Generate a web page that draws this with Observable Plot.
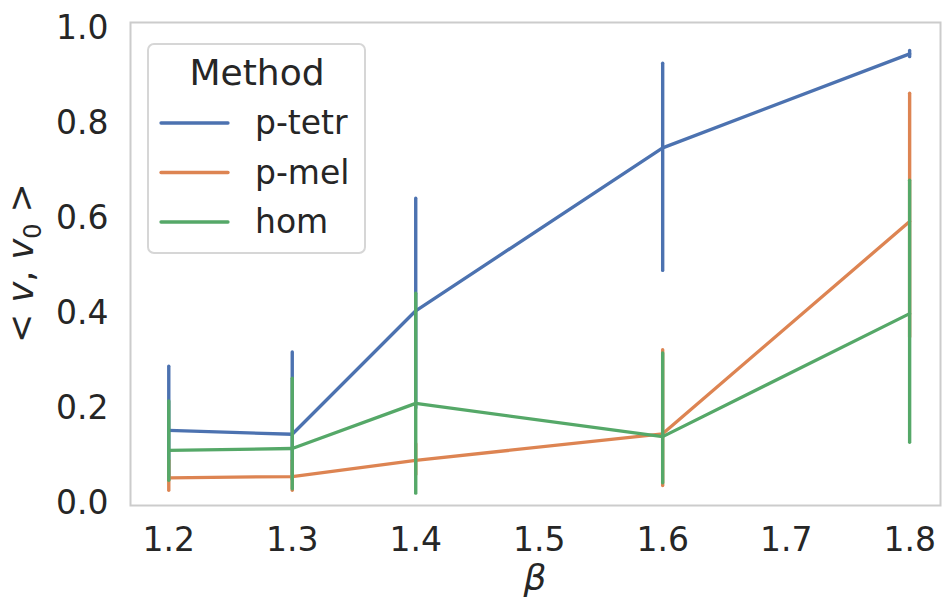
<!DOCTYPE html>
<html>
<head>
<meta charset="utf-8">
<script src="https://cdn.jsdelivr.net/npm/d3@7"></script>
<script src="https://cdn.jsdelivr.net/npm/@observablehq/plot@0.6"></script>
<style>
  html, body { margin: 0; padding: 0; background: #fff; }
</style>
</head>
<body>
<div id="chart"></div>
<script>
// ---- data ----
const betas = [1.2, 1.3, 1.4, 1.6, 1.8];
const methods = ["p-tetr", "p-mel", "hom"];
const colors = ["#4c72b0", "#dd8452", "#55a868"];
const xTicks = [1.2, 1.3, 1.4, 1.5, 1.6, 1.7, 1.8];
const yTicks = [0.0, 0.2, 0.4, 0.6, 0.8, 1.0];

const ptetrMean = [0.154, 0.146, 0.406, 0.749, 0.947];
const ptetrLow  = [0.050, 0.050, 0.200, 0.490, 0.940];
const ptetrHigh = [0.288, 0.318, 0.642, 0.926, 0.953];

const pmelMean = [0.054, 0.057, 0.091, 0.147, 0.594];
const pmelLow  = [0.027, 0.027, 0.060, 0.037, 0.350];
const pmelHigh = [0.090, 0.090, 0.125, 0.323, 0.863];

const homMean = [0.112, 0.116, 0.211, 0.141, 0.400];
const homLow  = [0.048, 0.030, 0.021, 0.043, 0.128];
const homHigh = [0.215, 0.263, 0.442, 0.316, 0.680];

// ---- build table ----
const series = {
  "p-tetr": [ptetrMean, ptetrLow, ptetrHigh],
  "p-mel": [pmelMean, pmelLow, pmelHigh],
  "hom": [homMean, homLow, homHigh]
};
const rows = [];
methods.forEach(m => {
  const [mean, lo, hi] = series[m];
  betas.forEach((b, i) => rows.push({method: m, beta: b, mean: mean[i], lo: lo[i], hi: hi[i]}));
});

const color = {domain: methods, range: colors};
const marks = [
  Plot.frame({stroke: "#cccccc", strokeWidth: 2})
];
methods.forEach(m => {
  const d = rows.filter(r => r.method === m);
  marks.push(Plot.line(d, {x: "beta", y: "mean", stroke: "method", strokeWidth: 3.3}));
  marks.push(Plot.ruleX(d, {x: "beta", y1: "lo", y2: "hi", stroke: "method", strokeWidth: 3.4, strokeLinecap: "round"}));
});

const chart = Plot.plot({
  width: 943,
  height: 605,
  marginLeft: 130,
  marginRight: 3,
  marginTop: 22,
  marginBottom: 100,
  style: {fontFamily: "DejaVu Sans, sans-serif", fontSize: "33px", color: "#262626", background: "#fff"},
  x: {domain: [1.169, 1.825], ticks: xTicks, tickFormat: d3.format(".1f"), tickSize: 0, tickPadding: 22, label: null},
  y: {domain: [-0.004, 1.013], ticks: yTicks, tickFormat: d3.format(".1f"), tickSize: 0, tickPadding: 22, label: null},
  color,
  marks
});
document.getElementById("chart").appendChild(chart);

const svg = d3.select(chart);
const font = "DejaVu Sans, sans-serif";

// y axis title: < v, v0 >
svg.append("text")
  .attr("transform", "translate(33,263) rotate(-90)")
  .attr("text-anchor", "middle")
  .attr("fill", "#262626")
  .attr("font-size", 35)
  .attr("font-family", font)
  .call(t => {
    t.append("tspan").text("< ");
    t.append("tspan").attr("font-style", "italic").text("v");
    t.append("tspan").text(", ");
    t.append("tspan").attr("font-style", "italic").text("v");
    t.append("tspan").attr("font-size", 24).attr("dy", 8).text("0");
    t.append("tspan").attr("dy", -8).text(" >");
  });

// x axis title: beta
svg.append("text")
  .attr("x", 535).attr("y", 590)
  .attr("text-anchor", "middle")
  .attr("fill", "#262626")
  .attr("font-size", 36)
  .attr("font-style", "italic")
  .attr("font-family", font)
  .text("β");

// legend
const lg = svg.append("g").attr("font-family", font).attr("fill", "#262626");
lg.append("rect")
  .attr("x", 148).attr("y", 44).attr("width", 217).attr("height", 209)
  .attr("rx", 6).attr("fill", "#fff").attr("fill-opacity", 0.8)
  .attr("stroke", "#d6d6d6").attr("stroke-width", 2);
lg.append("text").attr("x", 257).attr("y", 85).attr("text-anchor", "middle")
  .attr("font-size", 36).text("Method");
methods.forEach((m, i) => {
  const cy = 123 + i * 49.5;
  lg.append("line").attr("x1", 161).attr("x2", 228).attr("y1", cy).attr("y2", cy)
    .attr("stroke", colors[i]).attr("stroke-width", 3.3).attr("stroke-linecap", "round");
  lg.append("text").attr("x", 255).attr("y", cy + 11).attr("text-anchor", "start")
    .attr("font-size", 33).text(m);
});
</script>
</body>
</html>
